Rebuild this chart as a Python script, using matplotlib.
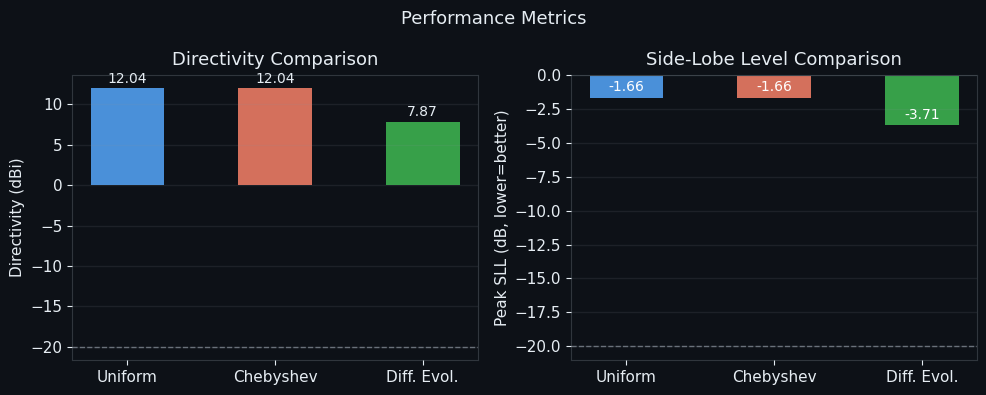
import matplotlib
matplotlib.use("Agg")
import matplotlib.pyplot as plt

methods = ["Uniform", "Chebyshev", "Diff. Evol."]
directivity = [12.04, 12.04, 7.87]
sll = [-1.66, -1.66, -3.71]
target_sll = -20.0
bar_colors = ["#4a90d9", "#d4705c", "#37a049"]

BG = "#0d1117"
FG = "#e6edf3"
SPINE = "#30363d"

plt.rcParams.update({
    "figure.facecolor": BG,
    "axes.facecolor": BG,
    "axes.edgecolor": SPINE,
    "axes.labelcolor": FG,
    "text.color": FG,
    "xtick.color": FG,
    "ytick.color": FG,
    "font.size": 11,
})

fig, axes = plt.subplots(1, 2, figsize=(9.87, 3.95), dpi=100)
fig.suptitle("Performance Metrics", fontsize=13, color=FG, y=0.975)

ax = axes[0]
x = range(len(methods))
ax.bar(x, directivity, width=0.5, color=bar_colors, zorder=1)
ax.axhline(target_sll, color="#8b949e", linestyle="--", linewidth=1, alpha=0.7)
for xi, v in zip(x, directivity):
    ax.text(xi, v + 0.3, f"{v:.2f}", ha="center", va="bottom", fontsize=10, color=FG)
ax.set_xticks(list(x))
ax.set_xticklabels(methods)
ax.set_ylabel("Directivity (dBi)")
ax.set_title("Directivity Comparison", fontsize=13, color=FG, pad=7)
ax.grid(axis="y", color="#8b949e", alpha=0.13, linewidth=1)
ax.set_axisbelow(False)

ax = axes[1]
ax.bar(x, sll, width=0.5, color=bar_colors, zorder=1)
ax.axhline(target_sll, color="#8b949e", linestyle="--", linewidth=1, alpha=0.7)
for xi, v in zip(x, sll):
    ax.text(xi, v + 0.8, f"{v:.2f}", ha="center", va="center", fontsize=10, color="white")
ax.set_xticks(list(x))
ax.set_xticklabels(methods)
ax.set_ylim(-21, 0)
ax.set_ylabel("Peak SLL (dB, lower=better)")
ax.set_title("Side-Lobe Level Comparison", fontsize=13, color=FG, pad=7)
ax.grid(axis="y", color="#8b949e", alpha=0.13, linewidth=1)
ax.set_axisbelow(False)

fig.subplots_adjust(left=0.073, right=0.99, top=0.81, bottom=0.089, wspace=0.229)
fig.savefig("out.png", dpi=100, facecolor=BG)
